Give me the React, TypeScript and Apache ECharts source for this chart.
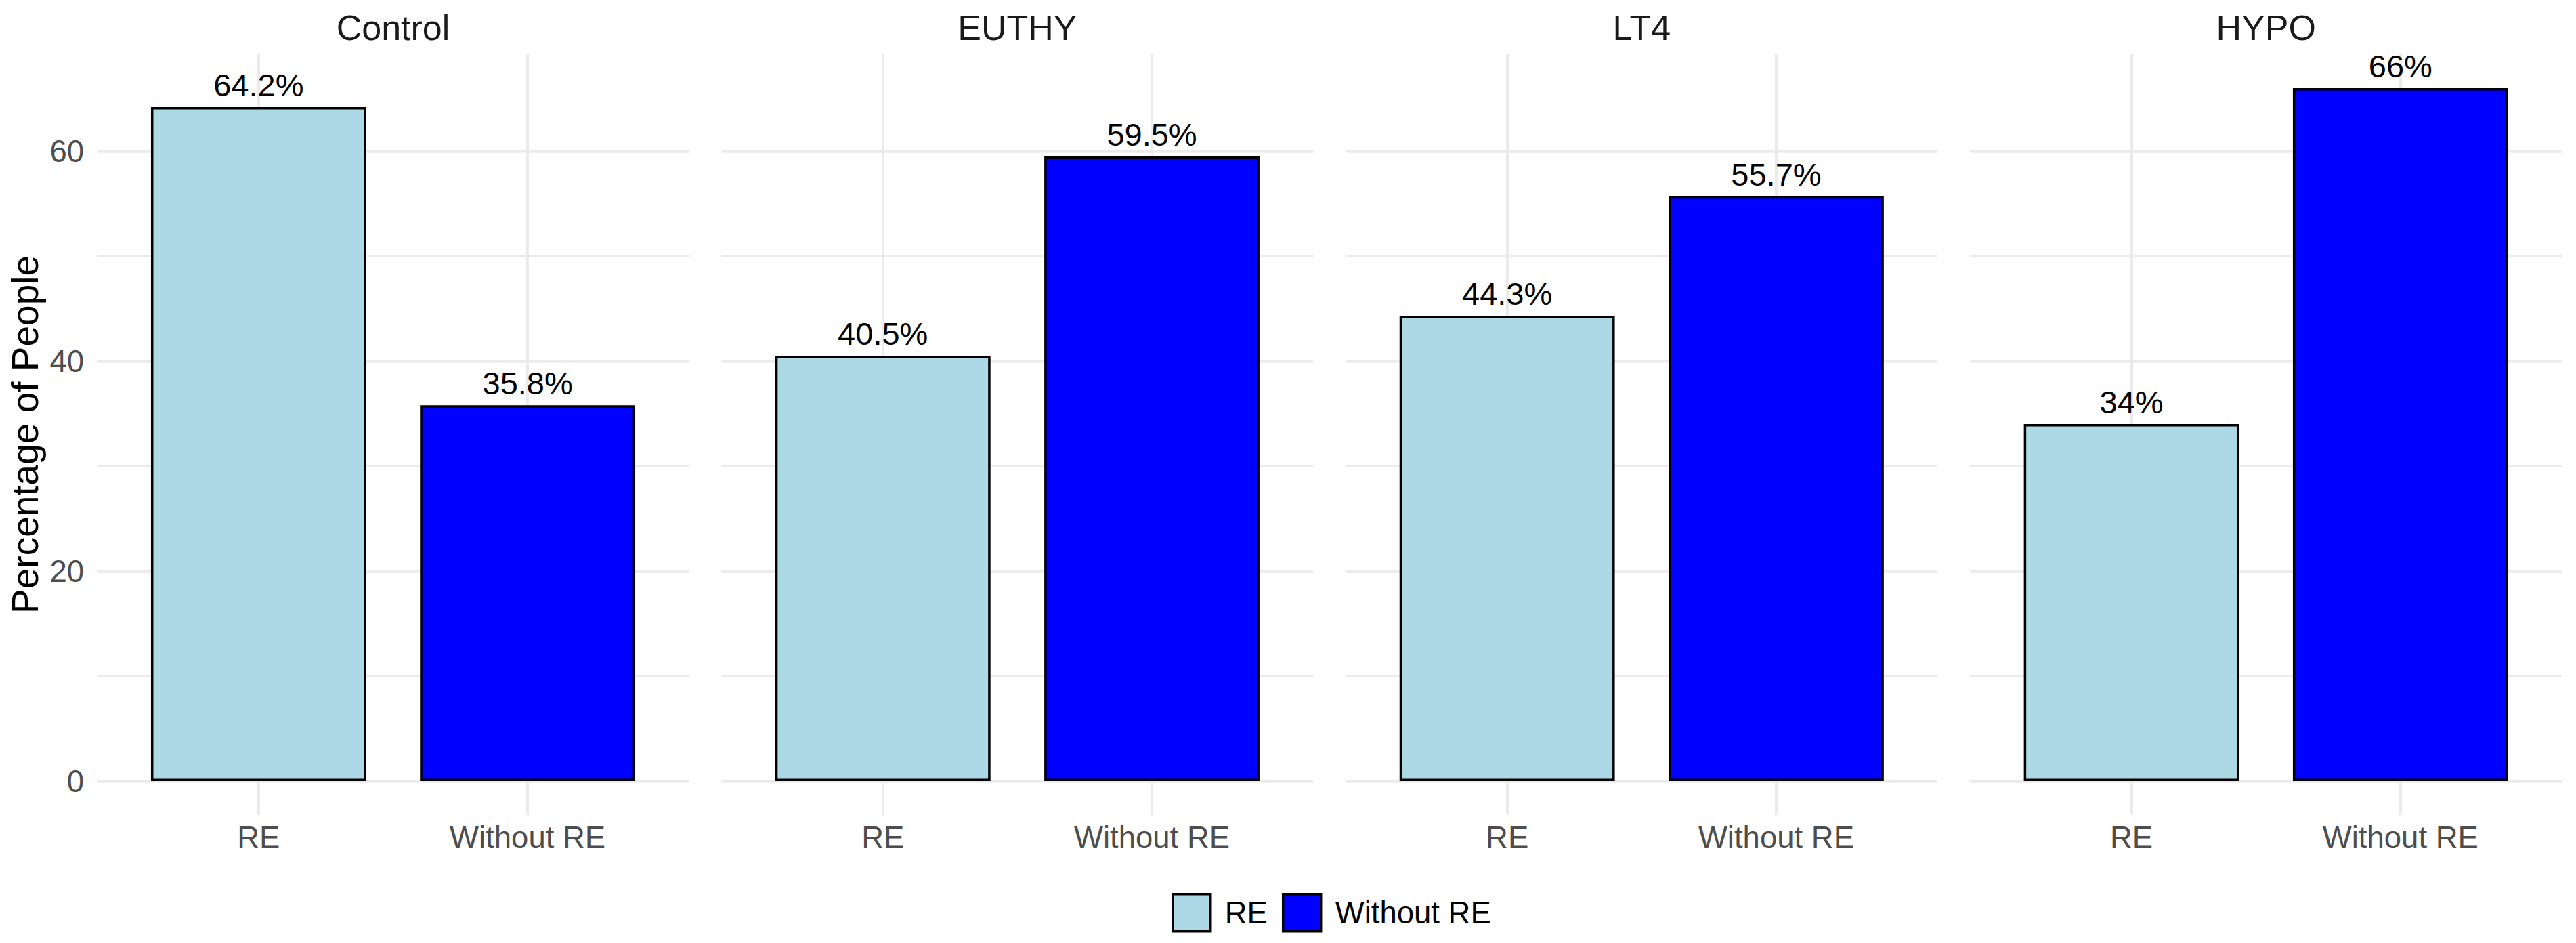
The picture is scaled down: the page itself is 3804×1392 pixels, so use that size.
import React, { useEffect, useRef } from 'react';
import * as echarts from 'echarts';

const panels = ['Control', 'EUTHY', 'LT4', 'HYPO'];
const categories = ['RE', 'Without RE'];
const reValues = [64.2, 40.5, 44.3, 34];
const withoutReValues = [35.8, 59.5, 55.7, 66];
const seriesNames = ['RE', 'Without RE'];
const seriesColors = ['#ADD8E6', '#0000FF'];
const yTickStep = 20;
const yTitle = 'Percentage of People';

export default function App() {
  const ref = useRef<HTMLDivElement>(null);
  useEffect(() => {
    const chart = echarts.init(ref.current!, null, { renderer: 'svg' });
    const FONT = '"Liberation Sans", Arial, Helvetica, sans-serif';
    const panelLeft0 = 143.5;
    const panelW = 874;
    const panelStep = 921.9;
    const top = 78.9;
    const zeroY = 1153;
    const h = zeroY - top;
    const yMax = Math.max(...reValues, ...withoutReValues) * 1.05;
    const unit = panelW / 2.2;
    const grid: any[] = [];
    const xAxis: any[] = [];
    const yAxis: any[] = [];
    const series: any[] = [];
    const graphic: any[] = [];
    const gridColor = '#EBEBEB';

    panels.forEach((p, i) => {
      const pl = panelLeft0 + i * panelStep;
      grid.push({ left: pl, top, width: panelW, height: h });
      grid.push({ left: pl + 0.6 * unit, top, width: unit, height: h });
      xAxis.push({ gridIndex: 2 * i, type: 'value', min: 0, max: 1, show: false });
      xAxis.push({
        gridIndex: 2 * i + 1,
        type: 'category',
        data: categories,
        boundaryGap: false,
        axisLine: { show: false },
        axisTick: { show: true, interval: 0, length: 50, lineStyle: { color: gridColor, width: 4 } },
        axisLabel: {
          interval: 0, margin: 60.5, fontSize: 45.5, lineHeight: 45.5,
          color: '#4D4D4D', fontFamily: FONT,
        },
        splitLine: { show: true, interval: 0, lineStyle: { color: gridColor, width: 4 } },
      });
      yAxis.push({
        gridIndex: 2 * i,
        type: 'value',
        min: 0,
        max: yMax,
        interval: yTickStep,
        axisLine: { show: false },
        axisTick: { show: false },
        axisLabel: {
          show: i === 0,
          margin: 19.5,
          fontSize: 45.5,
          lineHeight: 45.5,
          color: '#4D4D4D',
          fontFamily: FONT,
          formatter: (v: number) => (Math.abs(v % yTickStep) < 1e-9 ? String(v) : ''),
        },
        splitLine: { show: true, showMaxLine: false, lineStyle: { color: gridColor, width: 4.5 } },
        minorTick: { show: false, splitNumber: 2 },
        minorSplitLine: { show: true, lineStyle: { color: gridColor, width: 2.3 } },
      });
      yAxis.push({ gridIndex: 2 * i + 1, type: 'value', min: 0, max: yMax, show: false });

      const vals = [reValues[i], withoutReValues[i]];
      seriesNames.forEach((name, k) => {
        series.push({
          name,
          type: 'bar',
          xAxisIndex: 2 * i + 1,
          yAxisIndex: 2 * i + 1,
          stack: 'p' + i,
          barWidth: '80%',
          clip: false,
          data: categories.map((_, c) => (c === k ? vals[k] : '-')),
          itemStyle: { color: seriesColors[k], borderColor: '#000', borderWidth: 3.5 },
          emphasis: { disabled: true },
          label: {
            show: true,
            position: 'top',
            distance: 9,
            formatter: (pr: any) => pr.value + '%',
            fontSize: 47,
            lineHeight: 47,
            color: '#000',
            fontFamily: FONT,
          },
        });
      });

      graphic.push({
        type: 'text',
        x: pl + panelW / 2,
        y: 41,
        style: {
          text: p, fontSize: 52, fontFamily: FONT, fill: '#1A1A1A',
          align: 'center', verticalAlign: 'middle',
        },
      });
    });

    graphic.push({
      type: 'text',
      x: 37,
      y: top + (zeroY + 51 - top) / 2,
      rotation: Math.PI / 2,
      style: {
        text: yTitle, fontSize: 55, fontFamily: FONT, fill: '#000',
        align: 'center', verticalAlign: 'middle',
      },
    });

    chart.setOption({
      animation: false,
      backgroundColor: '#FFFFFF',
      grid,
      xAxis,
      yAxis,
      series,
      graphic,
      legend: {
        data: seriesNames,
        left: 1725,
        top: 1313,
        itemWidth: 56,
        itemHeight: 55,
        itemGap: 21,
        icon: 'rect',
        selectedMode: false,
        itemStyle: { borderColor: '#000', borderWidth: 3.5 },
        textStyle: { fontSize: 45.5, color: '#000', fontFamily: FONT, padding: [0, 0, 0, 16] },
      },
    });
    return () => chart.dispose();
  }, []);
  return (
    <div
      ref={ref}
      style={{ position: 'absolute', left: 0, top: 0, width: 3804, height: 1392, background: '#fff' }}
    />
  );
}
